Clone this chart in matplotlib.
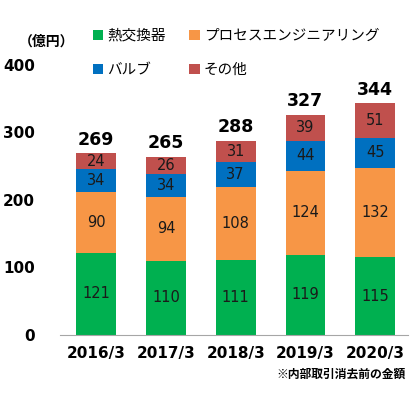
import matplotlib
matplotlib.use("Agg")
import matplotlib.pyplot as plt
import numpy as np

plt.rcParams['font.family'] = ['Noto Sans CJK JP', 'DejaVu Sans']

years = ["2016/3", "2017/3", "2018/3", "2019/3", "2020/3"]
series_names = ["熱交換器", "プロセスエンジニアリング", "バルブ", "その他"]
heat_exchanger = [121, 110, 111, 119, 115]
process_eng = [90, 94, 108, 124, 132]
valve = [34, 34, 37, 44, 45]
other = [24, 26, 31, 39, 51]
totals = [269, 265, 288, 327, 344]
colors = ["#00B050", "#F79646", "#0070C0", "#C0504D"]
yticks = [0, 100, 200, 300, 400]

fig = plt.figure(figsize=(4.2, 3.93), dpi=100)
ax = fig.add_axes([0.143, 0.148, 0.828, 0.687])

x = np.arange(len(years))
bottom = np.zeros(len(years))
bars = []
for vals, name, col in zip([heat_exchanger, process_eng, valve, other], series_names, colors):
    b = ax.bar(x, vals, width=0.57, bottom=bottom, color=col, label=name)
    bars.append(b)
    for xi, v, b0 in zip(x, vals, bottom):
        ax.text(xi, b0 + v / 2, str(v), ha="center", va="center", fontsize=10.5,
                color="#1a1a1a", family=["DejaVu Sans"])
    bottom += np.array(vals)

for xi, top, t in zip(x, bottom, totals):
    ax.text(xi, top + 7, str(t), ha="center", va="bottom", fontsize=12.5,
            fontweight="bold", family=["DejaVu Sans"], clip_on=False)

ax.set_xlim(-0.52, 4.47)
ax.set_ylim(0, 400)
ax.set_yticks(yticks)
ax.set_yticklabels([str(t) for t in yticks], fontsize=11, fontweight="bold", family=["DejaVu Sans"])
ax.set_xticks(x)
ax.set_xticklabels(years, fontsize=11, fontweight="bold", family=["DejaVu Sans"])
ax.tick_params(axis="both", length=0)
ax.tick_params(axis="y", pad=18)
ax.tick_params(axis="x", pad=8)
for s in ["top", "right", "left"]:
    ax.spines[s].set_visible(False)
ax.spines["bottom"].set_color("#a6a6a6")

handles = [bars[0], bars[2], bars[1], bars[3]]
labels = [series_names[0], series_names[2], series_names[1], series_names[3]]
fig.legend(handles, labels, ncol=2, loc="upper left", bbox_to_anchor=(0.19, 0.96),
           frameon=False, fontsize=10.5, handlelength=0.7, handleheight=0.7,
           handletextpad=0.3, columnspacing=1.6, labelspacing=1.4)

fig.text(0.045, 0.893, "（億円）", fontsize=10, fontweight="bold", va="center")
fig.text(0.965, 0.048, "※内部取引消去前の金額", fontsize=8.5, ha="right", va="center",
         fontweight="bold")

fig.savefig("out.png", dpi=100)
